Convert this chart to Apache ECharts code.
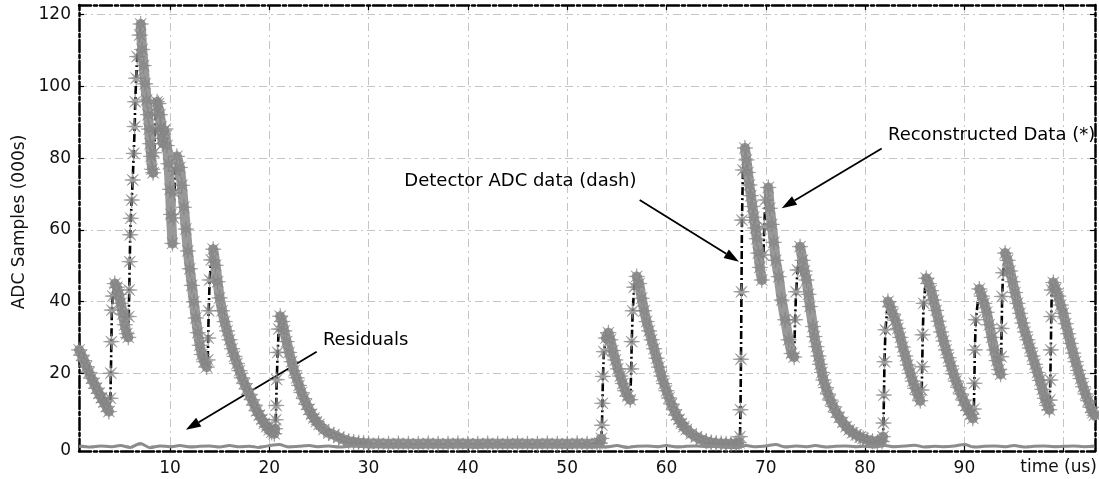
<!DOCTYPE html>
<html><head><meta charset="utf-8">
<script src="https://cdn.jsdelivr.net/npm/echarts@6/dist/echarts.min.js"></script>
<style>html,body{margin:0;padding:0;background:#fff}#c{width:1099px;height:479px}</style>
</head><body><div id="c"></div>
<script>
// ---------- data ----------
// [time (us), ADC samples (000s)] -- detector ADC data; reconstruction overlays it
const adcSamples = [
[0.85,26.5],[1.1,25],[1.35,23.5],[1.6,21.8],[1.85,20.2],[2.1,18.6],[2.35,17.2],[2.6,15.8],[2.85,14.4],[3.1,13.1],[3.35,11.9],[3.6,10.7],[3.85,9.3],
[4.0,13],[4.05,20],[4.1,28.8],[4.15,37.6],[4.25,41.5],[4.45,45],[4.65,44],[4.85,42],[5.05,39.5],[5.25,36.5],[5.45,33.5],[5.65,31],[5.8,30],
[5.85,35.8],[5.9,43.2],[5.95,51.1],[6.0,58.6],[6.05,63.2],[6.15,68.3],[6.25,73.9],[6.35,81.3],[6.45,88.8],[6.5,95.7],[6.6,102.3],[6.7,108.3],[6.95,114.3],[7.05,117.4],
[7.2,110.3],[7.35,105.8],[7.5,100.7],[7.65,96.2],[7.8,92.1],[7.9,88.1],[8.0,84],[8.1,80.5],[8.2,76.9],[8.3,75.9],[8.4,81.5],[8.5,87.6],[8.6,92.6],[8.7,95.7],[8.85,95.2],[9.0,92.1],[9.1,88.6],[9.2,85.5],[9.3,84],[9.4,87.6],[9.55,88.1],[9.7,83.5],[9.85,78.4],[10.0,71.3],[10.1,64.3],[10.25,56.2],[10.35,63.3],[10.45,70.3],[10.55,76.4],[10.7,80.5],
[11.0,77.4],[11.2,72.4],[11.4,66.3],[11.6,60.2],[11.8,54.1],[12.0,49.1],[12.2,44.5],[12.4,39.9],[12.6,35.4],[12.8,31.3],[13.0,27.8],[13.2,25.2],[13.45,23.2],[13.7,21.7],
[13.8,23.7],[13.85,29.8],[13.9,37.4],[14.0,46],[14.15,51.6],[14.35,54.6],[14.6,50.1],[14.8,45.5],[15.0,41],[15.25,37.4],[15.5,34.4],[15.75,31.8],[16.0,29.3],[16.25,26.8],[16.5,24.7],[16.75,22.7],[17.0,20.7],[17.25,18.7],[17.5,17.1],[17.75,15.6],[18.0,14.1],[18.25,12.6],[18.5,11.1],[18.75,9.5],[19.0,8.3],[19.25,7.1],[19.5,6.0],[19.75,5.1],[20.0,4.2],[20.25,3.5],[20.5,3.1],
[20.6,4.5],[20.65,7],[20.7,11],[20.75,18.2],[20.85,25.8],[20.95,32.3],[21.1,35.9],[21.3,34.4],[21.5,31.8],[21.75,28.8],[22.0,25.8],[22.25,23.2],[22.5,20.7],[22.75,18.7],[23.0,16.6],[23.25,14.6],[23.5,12.9],[23.75,11.3],[24.0,9.9],[24.25,8.5],[24.5,7.5],[24.75,6.5],[25.0,5.7],[25.5,4.3],[26.0,3.3],[26.5,2.8],[27.0,2.1],[27.5,1.5],[28.0,1.0],[28.5,0.8],[29.0,0.6],[29.5,0.5],[30.0,0.4],
[31,0.4],[32,0.3],[33,0.4],[34,0.3],[35,0.3],[36,0.4],[37,0.3],[38,0.3],[39,0.4],[40,0.3],[41,0.3],[42,0.4],[43,0.3],[44,0.3],[45,0.4],[46,0.3],[47,0.3],[48,0.4],[49,0.3],[50,0.3],[51,0.4],[52,0.3],[53,0.4],[53.3,0.5],
[53.45,1.8],[53.5,5.5],[53.55,11.6],[53.6,19.1],[53.7,26],[53.9,29.8],[54.15,31.3],[54.35,29.3],[54.6,26.3],[54.85,23.7],[55.1,21.2],[55.35,19.2],[55.6,17.1],[55.85,15.1],[56.1,13.6],[56.35,12.6],
[56.45,21.2],[56.5,28.8],[56.6,37.4],[56.75,44],[57.0,47],[57.25,45],[57.5,40.9],[57.75,37.4],[58.0,34.4],[58.25,31.8],[58.5,29.3],[58.75,26.8],[59.0,24.2],[59.25,21.7],[59.5,19.2],[59.75,17.1],[60.0,15.1],[60.25,13.1],[60.5,11.4],[60.75,9.8],[61.0,8.3],[61.25,7.1],[61.5,6.0],[61.75,5.1],[62.0,4.3],[62.5,3.1],[63.0,2.2],[63.5,1.5],[64.0,1.0],[64.5,0.7],[65.0,0.5],[65.5,0.4],[66.0,0.3],[66.5,0.3],[67.0,0.4],[67.3,0.6],
[67.4,2.3],[67.45,9.8],[67.5,23.9],[67.55,42.7],[67.6,62.7],[67.7,76.7],[67.9,82.8],[68.05,79.5],[68.2,76],[68.35,72.5],[68.5,69.5],[68.65,66.5],[68.8,63.5],[68.95,60.5],[69.1,57.5],[69.25,53.5],[69.4,49.5],[69.6,46],
[69.75,53],[69.85,60.9],[69.95,68.3],[70.25,71.8],[70.4,66],[70.6,61.5],[70.8,56.5],[71.0,51.5],[71.3,46.9],[71.6,40.4],[71.95,34.9],[72.3,29.3],[72.6,25.5],[72.85,24.5],
[72.95,34.9],[73.05,42.7],[73.2,48.8],[73.45,55.3],[73.7,51.5],[73.9,48.5],[74.1,46],[74.3,42],[74.45,38.6],[74.75,33],[74.9,30.2],[75.1,27.4],[75.3,24.8],[75.45,22.5],[75.65,20.2],[75.8,18.1],[76.05,16],[76.25,14.2],[76.5,12.5],[76.8,10.7],[77.1,9.1],[77.4,7.7],[77.75,6.3],[78.1,5.1],[78.4,4.2],[78.75,3.4],[79.1,2.8],[79.5,2.2],[79.8,1.8],[80.2,1.4],[80.75,1.0],[81.25,0.8],[81.7,1.0],
[81.8,2.3],[81.85,6.1],[81.9,13.9],[81.95,23.2],[82.05,32.1],[82.3,40],[82.55,38.5],[82.8,36.5],[83.05,34.8],[83.3,32.5],[83.55,30],[83.8,27.3],[84.05,24.8],[84.3,22.3],[84.55,20],[84.8,17.8],[85.05,15.8],[85.3,14],[85.55,12.3],
[85.7,15.3],[85.75,21.8],[85.8,30.7],[85.9,39.5],[86.15,46.5],[86.4,45],[86.65,43],[86.9,40.4],[87.15,37.5],[87.4,34.5],[87.65,31.5],[87.9,29],[88.15,26.5],[88.4,24.3],[88.65,22],[88.9,19.8],[89.15,17.8],[89.4,16],[89.65,14.2],[89.9,12.5],[90.15,11],[90.4,9.6],[90.65,8.5],[90.85,7.4],
[90.95,10],[91.0,17.2],[91.05,26.5],[91.15,34.9],[91.5,43.5],[91.75,41.5],[92.0,39.5],[92.25,37],[92.5,33.5],[92.75,30],[93.0,26.5],[93.25,23.5],[93.5,21],[93.65,19.7],
[93.7,24.6],[93.75,32.5],[93.8,41.4],[93.9,48],[94.1,53.5],[94.35,51.5],[94.6,48.5],[94.85,45.5],[95.1,42.5],[95.35,39.5],[95.6,36.7],[95.85,34],[96.1,31.5],[96.35,29.3],[96.6,27],[96.85,24.8],[97.1,22.5],[97.35,20.2],[97.6,18],[97.85,15.5],[98.1,13],[98.35,11],[98.55,9.8],
[98.6,12.5],[98.65,18.1],[98.7,26.5],[98.75,35.8],[98.8,43.2],[98.95,45.3],[99.2,43.5],[99.45,41.5],[99.7,39],[99.95,36.7],[100.2,33.8],[100.45,31],[100.7,28.3],[100.95,25.6],[101.2,23.2],[101.45,20.8],[101.7,18.5],[101.95,16.2],[102.2,14.2],[102.45,12.3],[102.7,10.5],[102.95,9],[103.1,8.3]
];

const residualTime = [0.85,2,3,4,5,6,7,8,9,10,11,12,13,14,15,16,17,18,19,20,21,22,23,24,25,26,27,28,29,30,
31,32,33,34,35,36,37,38,39,40,41,42,43,44,45,46,47,48,49,50,
51,52,53,54,55,56,57,58,59,60,61,62,63,64,65,66,67,68,69,70,
71,72,73,74,75,76,77,78,79,80,81,82,83,84,85,86,87,88,89,90,
91,92,93,94,95,96,97,98,99,100,101,102,103.1];
const residualValues = [-0.4,-0.6,-0.3,-0.5,-0.2,-0.7,0.4,-0.8,-0.3,-0.5,-0.2,-0.6,-0.4,-0.3,-0.6,-0.2,-0.5,-0.4,-0.7,-0.2,0.1,-0.6,-0.4,-0.2,-0.5,-0.3,-0.6,-0.4,-0.3,-0.5,
-0.4,-0.3,-0.5,-0.4,-0.6,-0.3,-0.4,-0.5,-0.3,-0.4,-0.6,-0.3,-0.4,-0.5,-0.3,-0.4,-0.5,-0.3,-0.4,-0.6,
-0.3,-0.5,-0.4,-0.6,-0.2,-0.7,-0.4,-0.3,-0.5,-0.2,-0.6,-0.4,-0.3,-0.5,-0.4,-0.6,-0.8,-0.2,-0.5,-0.3,
0.1,-0.6,-0.3,-0.5,-0.2,-0.6,-0.4,-0.3,-0.5,-0.4,-0.6,-0.2,-0.5,-0.3,-0.1,-0.6,-0.4,-0.5,-0.3,0.1,
-0.6,-0.4,-0.3,-0.5,-0.2,-0.6,-0.4,-0.3,-0.5,-0.4,-0.3,-0.5,-0.4];

const xRange = [0.84, 103.15];
const yRange = [-1.7, 122.7];
const hiddenXTick = 100;       // its place is taken by the axis title
const zeroLabel = '0';         // drawn at the bottom frame, as in the reference
const xTitle = 'time (us)';
const yTitle = 'ADC Samples (000s)';
// annotations: [text, textAnchor(x,y), arrowStart(x,y), arrowTip(x,y)] in data units
const notes = [
  ['Residuals', [25.4, 29.3], [24.77, 26.0], [11.6, 4.2]],
  ['Detector ADC data (dash)', [33.6, 73.6], [57.3, 68.3], [67.3, 51.1]],
  ['Reconstructed Data (*)', [82.3, 86.4], [81.67, 82.7], [71.6, 66.0]]
];

// ---------- chart ----------
const FONT = 'DejaVu Sans';
const chart = echarts.init(document.getElementById('c'), null, {renderer: 'canvas'});

// asterisk-like 8-arm star symbol
let starPath = 'path://';
for (let k = 0; k < 16; k++) {
  const r = (k % 2 === 0) ? 10 : 2.6;
  const a = Math.PI * k / 8 - Math.PI / 2;
  starPath += (k === 0 ? 'M' : 'L') + (r * Math.cos(a)).toFixed(2) + ',' + (r * Math.sin(a)).toFixed(2);
}
starPath += 'Z';

// continuous grey band for the decaying parts (broken at rising edges)
const band = [];
for (let i = 0; i < adcSamples.length; i++) {
  if (i > 0 && adcSamples[i][1] - adcSamples[i - 1][1] > 1.5) band.push([adcSamples[i][0], null]);
  band.push(adcSamples[i]);
}
const residuals = residualTime.map((t, i) => [t, residualValues[i]]);

const frame = {color: '#000', width: 2.5, type: [12, 3, 3, 3]};
const grid = {color: '#c4c4c4', width: 1, type: [8, 4, 2, 4]};
const tick = {show: true, inside: true, length: 5, lineStyle: {color: '#000', width: 1.2}};

const xBase = {type: 'value', min: xRange[0], max: xRange[1], splitNumber: 10};
const yBase = {type: 'value', min: yRange[0], max: yRange[1], splitNumber: 6};

chart.setOption({
  animation: false,
  backgroundColor: '#fff',
  grid: {left: 79, right: 4, top: 5, bottom: 28, containLabel: false, outerBoundsMode: 'none'},
  xAxis: [
    Object.assign({}, xBase, {position: 'bottom',
      axisLine: {show: true, onZero: false, lineStyle: frame}, axisTick: tick,
      axisLabel: {showMinLabel: false, showMaxLabel: false, margin: 9,
        fontFamily: FONT, fontSize: 17, color: '#111',
        formatter: v => (v === hiddenXTick ? '' : String(v))},
      splitLine: {show: true, lineStyle: grid}}),
    Object.assign({}, xBase, {position: 'top',
      axisLine: {show: true, onZero: false, lineStyle: frame}, axisTick: tick,
      axisLabel: {show: false}, splitLine: {show: false}})
  ],
  yAxis: [
    Object.assign({}, yBase, {position: 'left',
      axisLine: {show: true, onZero: false, lineStyle: frame}, axisTick: tick,
      axisLabel: {showMinLabel: false, showMaxLabel: false, margin: 8,
        fontFamily: FONT, fontSize: 17, color: '#111',
        formatter: v => (v === 0 ? '' : String(v))},
      splitLine: {show: true, lineStyle: grid}}),
    Object.assign({}, yBase, {position: 'right',
      axisLine: {show: true, onZero: false, lineStyle: frame}, axisTick: tick,
      axisLabel: {show: false}, splitLine: {show: false}})
  ],
  series: [
    {name: 'Detector ADC data (dash)', type: 'line', data: adcSamples, showSymbol: false,
     lineStyle: {color: '#000', width: 2.6, type: [8, 3, 2, 3]}, z: 2, silent: true},
    {name: 'band', type: 'line', data: band, showSymbol: false, connectNulls: false,
     lineStyle: {color: '#999999', width: 10, cap: 'round', join: 'round'}, z: 3, silent: true},
    {name: 'Reconstructed Data (*)', type: 'scatter', data: adcSamples, symbol: starPath, symbolSize: 16,
     itemStyle: {color: '#8a8a8a', borderColor: '#808080', borderWidth: 0.6}, z: 4, silent: true},
    {name: 'Residuals', type: 'line', data: residuals, showSymbol: false, smooth: 0.3,
     lineStyle: {color: '#8c8c8c', width: 3}, z: 5, silent: true}
  ]
});

// ---------- annotations and axis titles ----------
const px = p => chart.convertToPixel({gridIndex: 0}, p);
const gfx = [];
notes.forEach(([txt, at, from, to]) => {
  const a = px(at), s = px(from), t = px(to);
  gfx.push({type: 'text', x: a[0], y: a[1], silent: true,
    style: {text: txt, font: '18px "DejaVu Sans"', fill: '#000', textAlign: 'left', textVerticalAlign: 'middle'}});
  const dx = t[0] - s[0], dy = t[1] - s[1], len = Math.hypot(dx, dy);
  const ux = dx / len, uy = dy / len, L = 15, W = 10;
  const bx = t[0] - ux * L, by = t[1] - uy * L;
  gfx.push({type: 'line', silent: true, shape: {x1: s[0], y1: s[1], x2: bx, y2: by},
    style: {stroke: '#000', lineWidth: 1.8}});
  gfx.push({type: 'polygon', silent: true,
    shape: {points: [[t[0], t[1]], [bx - uy * W / 2, by + ux * W / 2], [bx + uy * W / 2, by - ux * W / 2]]},
    style: {fill: '#000'}});
});
const corner = px([xRange[1], yRange[0]]);
const origin = px([xRange[0], yRange[0]]);
gfx.push({type: 'text', x: corner[0] + 2, y: corner[1] + 17, silent: true,
  style: {text: xTitle, font: '17px "DejaVu Sans"', fill: '#111', textAlign: 'right', textVerticalAlign: 'middle'}});
gfx.push({type: 'text', x: origin[0] - 8, y: origin[1], silent: true,
  style: {text: zeroLabel, font: '17px "DejaVu Sans"', fill: '#111', textAlign: 'right', textVerticalAlign: 'middle'}});
gfx.push({type: 'text', x: 19.5, y: 222, rotation: Math.PI / 2, silent: true,
  style: {text: yTitle, font: '17px "DejaVu Sans"', fill: '#111', textAlign: 'center', textVerticalAlign: 'middle'}});
chart.setOption({graphic: gfx});
</script>
</body></html>
